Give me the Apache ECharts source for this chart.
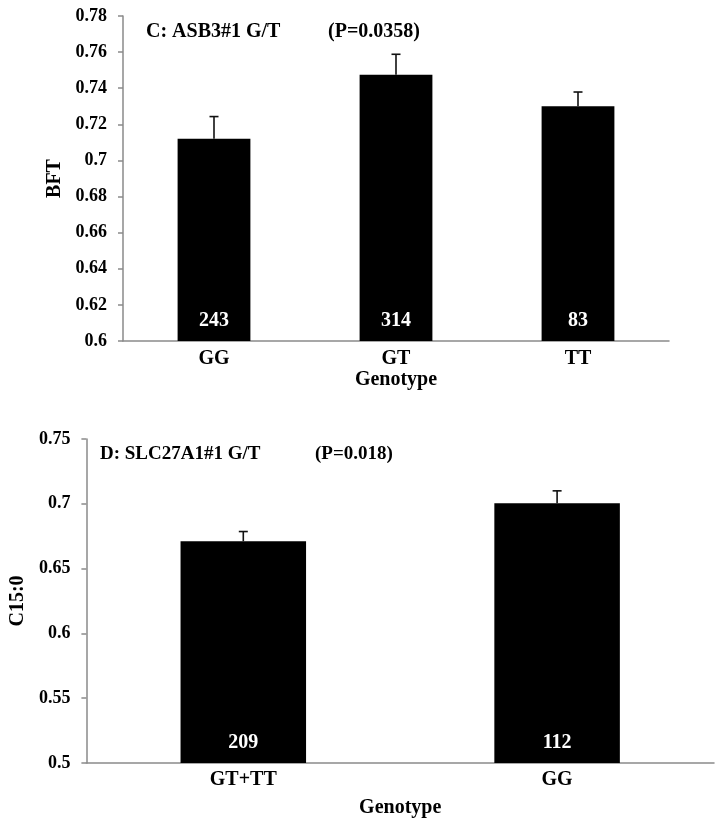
<!DOCTYPE html>
<html>
<head>
<meta charset="utf-8">
<script src="https://cdn.jsdelivr.net/npm/echarts@6/dist/echarts.min.js"></script>
<style>html,body{margin:0;padding:0;background:#fff}#c{width:718px;height:822px}</style>
</head>
<body>
<div id="c"></div>
<script>
const topCats = ['GG', 'GT', 'TT'];
const topMeans = [0.712, 0.7475, 0.730];
const topUpper = [0.7243, 0.7588, 0.7379];
const topN = [243, 314, 83];
const topTicks = {min: 0.6, max: 0.78, interval: 0.02};

const botCats = ['GT+TT', 'GG'];
const botMeans = [0.6711, 0.7005];
const botUpper = [0.6786, 0.7100];
const botN = [209, 112];
const botTicks = {min: 0.5, max: 0.75, interval: 0.05};

const FONT = '"Liberation Serif", "Times New Roman", serif';
const AXIS_COLOR = '#8a8a8a';

function errRender(params, api) {
  const x = api.value(0);
  const p0 = api.coord([x, api.value(1)]);
  const p1 = api.coord([x, api.value(2)]);
  const hw = 4.5;
  return {
    type: 'group',
    children: [
      {type: 'line', shape: {x1: p0[0], y1: p0[1], x2: p1[0], y2: p1[1]}, style: {stroke: '#111', lineWidth: 1.6}},
      {type: 'line', shape: {x1: p1[0] - hw, y1: p1[1], x2: p1[0] + hw, y2: p1[1]}, style: {stroke: '#111', lineWidth: 1.6}}
    ]
  };
}

function xAxis(gridIndex, cats, margin, nameGap) {
  return {
    type: 'category', gridIndex: gridIndex, data: cats,
    name: 'Genotype', nameLocation: 'middle', nameGap: nameGap,
    nameTextStyle: {fontFamily: FONT, fontWeight: 'bold', fontSize: 20, color: '#000'},
    axisLine: {lineStyle: {color: AXIS_COLOR, width: 1.5}},
    axisTick: {show: false},
    axisLabel: {fontFamily: FONT, fontWeight: 'bold', fontSize: 20, color: '#000', margin: margin}
  };
}

function yAxis(gridIndex, ticks, name, nameGap) {
  return {
    type: 'value', gridIndex: gridIndex, min: ticks.min, max: ticks.max, interval: ticks.interval,
    name: name, nameLocation: 'middle', nameGap: nameGap,
    nameTextStyle: {fontFamily: FONT, fontWeight: 'bold', fontSize: 20, color: '#000'},
    axisLine: {show: true, lineStyle: {color: AXIS_COLOR, width: 1.5}},
    axisTick: {show: true, length: 5, lineStyle: {color: AXIS_COLOR, width: 1.5}},
    splitLine: {show: false},
    axisLabel: {fontFamily: FONT, fontWeight: 'bold', fontSize: 18, color: '#000', margin: 16}
  };
}

function barSeries(idx, means, ns) {
  return {
    type: 'bar', xAxisIndex: idx, yAxisIndex: idx, data: means, barWidth: '40%',
    itemStyle: {color: '#000'},
    label: {
      show: true, position: 'insideBottom', distance: 10,
      formatter: p => String(ns[p.dataIndex]),
      fontFamily: FONT, fontWeight: 'bold', fontSize: 20, color: '#fff'
    },
    silent: true
  };
}

function errSeries(idx, means, upper) {
  return {
    type: 'custom', xAxisIndex: idx, yAxisIndex: idx,
    data: means.map((m, i) => [i, m, upper[i]]),
    renderItem: errRender, silent: true, z: 5
  };
}

function titleText(text, x, y, size) {
  return {type: 'text', left: x, top: y, style: {text: text, fontFamily: FONT, fontWeight: 'bold', fontSize: size, fill: '#000', verticalAlign: 'middle'}};
}

const chart = echarts.init(document.getElementById('c'), null, {renderer: 'canvas'});
chart.setOption({
  animation: false,
  backgroundColor: '#fff',
  grid: [
    {left: 123, top: 16, right: 49, bottom: 481},
    {left: 79, top: 439, right: 4, bottom: 59}
  ],
  xAxis: [xAxis(0, topCats, 8, 27), xAxis(1, botCats, 7, 35)],
  yAxis: [yAxis(0, topTicks, 'BFT', 56), yAxis(1, botTicks, 'C15:0', 53)],
  series: [
    barSeries(0, topMeans, topN),
    errSeries(0, topMeans, topUpper),
    barSeries(1, botMeans, botN),
    errSeries(1, botMeans, botUpper)
  ],
  graphic: [
    {type: 'text', x: 146, y: 32, style: {text: 'C: ASB3#1 G/T', fontFamily: FONT, fontWeight: 'bold', fontSize: 20, fill: '#000', verticalAlign: 'middle'}},
    {type: 'text', x: 328, y: 32, style: {text: '(P=0.0358)', fontFamily: FONT, fontWeight: 'bold', fontSize: 20, fill: '#000', verticalAlign: 'middle'}},
    {type: 'text', x: 100, y: 454, style: {text: 'D: SLC27A1#1 G/T', fontFamily: FONT, fontWeight: 'bold', fontSize: 19, fill: '#000', verticalAlign: 'middle'}},
    {type: 'text', x: 315, y: 454, style: {text: '(P=0.018)', fontFamily: FONT, fontWeight: 'bold', fontSize: 19, fill: '#000', verticalAlign: 'middle'}}
  ]
});
</script>
</body>
</html>
